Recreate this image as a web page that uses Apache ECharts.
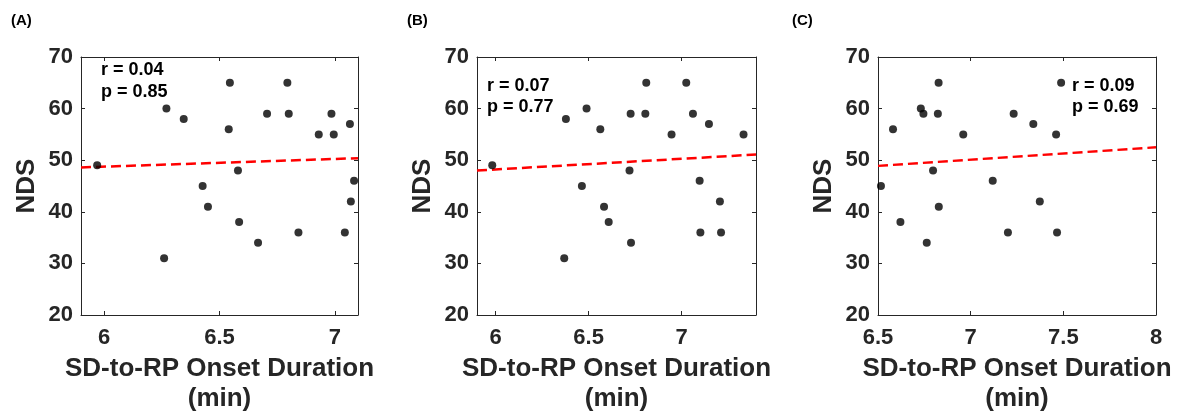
<!DOCTYPE html>
<html><head><meta charset="utf-8">
<script src="https://cdn.jsdelivr.net/npm/echarts@6/dist/echarts.min.js"></script>
<style>html,body{margin:0;padding:0;background:#fff}#c{width:1178px;height:414px}</style>
</head><body><div id="c"></div>
<script>
// Panel A
const durationA = [5.97, 6.27, 6.345, 6.26, 6.545, 6.54, 6.58, 6.427, 6.45, 6.585, 6.667, 6.706, 6.794, 6.80, 6.842, 6.93, 6.995, 6.985, 7.065, 7.083, 7.069, 7.043];
const ndsA      = [49,   60,   58,    31,   65,    56,   48,   45,    41,   38,    34,    59,    65,    59,   36,    55,   55,    59,    57,    46,    42,    36];
// Panel B
const durationB = [5.982, 6.378, 6.369, 6.489, 6.464, 6.563, 6.583, 6.608, 6.72, 6.726, 6.728, 6.81, 6.805, 6.946, 7.025, 7.061, 7.147, 7.097, 7.101, 7.206, 7.212, 7.333];
const ndsB      = [49,    58,    31,    60,    45,    56,    41,    38,    48,   59,    34,    65,   59,    55,    65,    59,    57,    46,    36,    42,    36,    55];
// Panel C
const durationC = [6.516, 6.581, 6.621, 6.731, 6.745, 6.763, 6.827, 6.823, 6.797, 6.828, 6.96, 7.119, 7.201, 7.232, 7.338, 7.373, 7.461, 7.466, 7.488];
const ndsC      = [45,    56,    38,    60,    59,    34,    65,    59,    48,    41,    55,   46,    36,    59,    57,    42,    55,    36,    65];
// Regression fits (endpoints)
const fitXA = [5.9, 7.1], fitYA = [48.6, 50.4];
const fitXB = [5.9, 7.4], fitYB = [48.0, 51.1];
const fitXC = [6.5, 8.0], fitYC = [48.9, 52.5];
// Axis ranges and ticks
const xRanges = [[5.9, 7.1], [5.9, 7.4], [6.5, 8.0]];
const xTicks = [[6, 6.5, 7], [6, 6.5, 7], [6.5, 7, 7.5, 8]];
const yTicks = [20, 30, 40, 50, 60, 70];
const panelLabels = ['(A)', '(B)', '(C)'];
const rLabels = ['r = 0.04', 'r = 0.07', 'r = 0.09'];
const pLabels = ['p = 0.85', 'p = 0.77', 'p = 0.69'];
const xTitle = 'SD-to-RP Onset Duration\n(min)';
const yTitle = 'NDS';

const FONT = "'Liberation Sans', Arial, sans-serif";
const AX = '#262626';
const grids = [
  {left: 81, top: 57, width: 277, height: 258, outerBoundsMode: 'none', containLabel: false},
  {left: 477, top: 57, width: 279, height: 258, outerBoundsMode: 'none', containLabel: false},
  {left: 878, top: 57, width: 278, height: 258, outerBoundsMode: 'none', containLabel: false}
];
const panelLabelX = [11, 407, 792];
const statX = [101, 487, 1072];
const statY = [[70, 92], [86, 107], [86, 107]];

const xAxes = [], yAxes = [], series = [], graphics = [];
const pts = [[durationA, ndsA], [durationB, ndsB], [durationC, ndsC]];
const fits = [[fitXA, fitYA], [fitXB, fitYB], [fitXC, fitYC]];
for (let i = 0; i < 3; i++) {
  const baseX = {
    gridIndex: i, type: 'value', min: xRanges[i][0], max: xRanges[i][1],
    axisLine: {show: true, onZero: false, lineStyle: {color: AX, width: 1}},
    axisTick: {show: true, inside: true, length: 4, customValues: xTicks[i], lineStyle: {color: AX}},
    splitLine: {show: false}
  };
  xAxes.push(Object.assign({}, baseX, {
    position: 'bottom',
    axisLabel: {show: true, customValues: xTicks[i], margin: 12, color: AX, fontFamily: FONT, fontWeight: 'bold', fontSize: 22},
    name: xTitle, nameLocation: 'middle', nameGap: 38,
    nameTextStyle: {color: AX, fontFamily: FONT, fontWeight: 'bold', fontSize: 26, lineHeight: 30}
  }));
  xAxes.push(Object.assign({}, baseX, {position: 'top', axisLabel: {show: false}}));
  const baseY = {
    gridIndex: i, type: 'value', min: 20, max: 70, interval: 10,
    axisLine: {show: true, onZero: false, lineStyle: {color: AX, width: 1}},
    axisTick: {show: true, inside: true, length: 4, lineStyle: {color: AX}},
    splitLine: {show: false}
  };
  yAxes.push(Object.assign({}, baseY, {
    position: 'left',
    axisLabel: {show: true, margin: 8, color: AX, fontFamily: FONT, fontWeight: 'bold', fontSize: 22},
    name: yTitle, nameLocation: 'middle', nameGap: 41,
    nameTextStyle: {color: AX, fontFamily: FONT, fontWeight: 'bold', fontSize: 26}
  }));
  yAxes.push(Object.assign({}, baseY, {position: 'right', axisLabel: {show: false}}));

  series.push({
    type: 'scatter', xAxisIndex: 2 * i, yAxisIndex: 2 * i,
    data: pts[i][0].map((x, k) => [x, pts[i][1][k]]),
    symbolSize: 8, itemStyle: {color: '#000'}, silent: true, z: 3
  });
  series.push({
    type: 'line', xAxisIndex: 2 * i, yAxisIndex: 2 * i,
    data: fits[i][0].map((x, k) => [x, fits[i][1][k]]),
    showSymbol: false, symbol: 'none', clip: true,
    lineStyle: {color: '#ff0000', width: 2.5, type: [10, 5]}, silent: true, z: 2
  });

  graphics.push({type: 'text', left: panelLabelX[i], top: 13,
    style: {text: panelLabels[i], font: "bold 15px " + FONT, fill: '#000'}});
  graphics.push({type: 'text', x: statX[i], y: statY[i][0],
    style: {text: rLabels[i], font: "bold 18px " + FONT, fill: '#000', verticalAlign: 'middle'}, z: 10});
  graphics.push({type: 'text', x: statX[i], y: statY[i][1],
    style: {text: pLabels[i], font: "bold 18px " + FONT, fill: '#000', verticalAlign: 'middle'}, z: 10});
}

const chart = echarts.init(document.getElementById('c'), null, {renderer: 'canvas'});
chart.setOption({
  animation: false,
  backgroundColor: '#fff',
  grid: grids,
  xAxis: xAxes,
  yAxis: yAxes,
  series: series,
  graphic: graphics
});
</script>
</body></html>
